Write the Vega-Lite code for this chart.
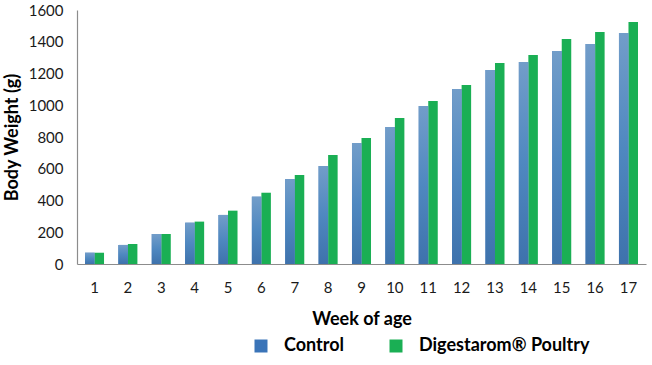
{
  "$schema": "https://vega.github.io/schema/vega-lite/v6.json",
  "width": 569,
  "height": 254,
  "autosize": {"type": "none"},
  "padding": {"left": 77, "top": 10, "right": 6, "bottom": 101},
  "config": {
    "view": {"stroke": null},
    "font": "Lato",
    "axis": {
      "grid": false,
      "ticks": false,
      "domainColor": "#8c8c8c",
      "domainWidth": 1.2,
      "labelColor": "#1a1a1a",
      "labelFont": "Lato",
      "labelFontSize": 15,
      "titleFont": "Lato",
      "titleFontSize": 18,
      "titleFontWeight": "bold",
      "titleColor": "#000000"
    }
  },
  "data": {
    "values": [
      {"week": 1, "group": "Control", "weight": 71},
      {"week": 1, "group": "Digestarom® Poultry", "weight": 71},
      {"week": 2, "group": "Control", "weight": 120},
      {"week": 2, "group": "Digestarom® Poultry", "weight": 126},
      {"week": 3, "group": "Control", "weight": 189},
      {"week": 3, "group": "Digestarom® Poultry", "weight": 189},
      {"week": 4, "group": "Control", "weight": 260},
      {"week": 4, "group": "Digestarom® Poultry", "weight": 267},
      {"week": 5, "group": "Control", "weight": 309},
      {"week": 5, "group": "Digestarom® Poultry", "weight": 336},
      {"week": 6, "group": "Control", "weight": 424},
      {"week": 6, "group": "Digestarom® Poultry", "weight": 449},
      {"week": 7, "group": "Control", "weight": 535},
      {"week": 7, "group": "Digestarom® Poultry", "weight": 561},
      {"week": 8, "group": "Control", "weight": 617},
      {"week": 8, "group": "Digestarom® Poultry", "weight": 687},
      {"week": 9, "group": "Control", "weight": 762},
      {"week": 9, "group": "Digestarom® Poultry", "weight": 794},
      {"week": 10, "group": "Control", "weight": 863},
      {"week": 10, "group": "Digestarom® Poultry", "weight": 920},
      {"week": 11, "group": "Control", "weight": 995},
      {"week": 11, "group": "Digestarom® Poultry", "weight": 1027},
      {"week": 12, "group": "Control", "weight": 1102},
      {"week": 12, "group": "Digestarom® Poultry", "weight": 1128},
      {"week": 13, "group": "Control", "weight": 1222},
      {"week": 13, "group": "Digestarom® Poultry", "weight": 1266},
      {"week": 14, "group": "Control", "weight": 1272},
      {"week": 14, "group": "Digestarom® Poultry", "weight": 1317},
      {"week": 15, "group": "Control", "weight": 1342},
      {"week": 15, "group": "Digestarom® Poultry", "weight": 1417},
      {"week": 16, "group": "Control", "weight": 1386},
      {"week": 16, "group": "Digestarom® Poultry", "weight": 1461},
      {"week": 17, "group": "Control", "weight": 1455},
      {"week": 17, "group": "Digestarom® Poultry", "weight": 1524}
    ]
  },
  "encoding": {
    "x": {
      "field": "week",
      "type": "ordinal",
      "scale": {"paddingInner": 0.43, "paddingOuter": 0.24},
      "axis": {"labelAngle": 0, "title": "Week of age", "labelPadding": 16, "titlePadding": 15}
    },
    "xOffset": {"field": "group", "type": "nominal", "sort": ["Control", "Digestarom® Poultry"]},
    "y": {
      "field": "weight",
      "type": "quantitative",
      "scale": {"domain": [0, 1600]},
      "axis": {"values": [0, 200, 400, 600, 800, 1000, 1200, 1400, 1600], "format": "d", "title": "Body Weight (g)", "labelPadding": 14, "titlePadding": 7}
    }
  },
  "layer": [
    {
      "mark": {"type": "bar"},
      "encoding": {
        "color": {
          "field": "group",
          "type": "nominal",
          "scale": {"domain": ["Control", "Digestarom® Poultry"], "range": ["#3a74b8", "#1aaf54"]},
          "legend": {
            "orient": "none",
            "legendX": 175,
            "legendY": 327,
            "direction": "horizontal",
            "title": null,
            "symbolType": "square",
            "symbolSize": 169,
            "symbolOpacity": 1,
            "labelFontSize": 18,
            "labelFontWeight": "bold",
            "labelColor": "#000000",
            "labelFont": "Lato",
            "labelOffset": 14,
            "labelLimit": 400,
            "columnPadding": 42
          }
        }
      }
    },
    {
      "transform": [{"filter": "datum.group === 'Control'"}],
      "mark": {
        "type": "bar",
        "fill": {
          "gradient": "linear",
          "x1": 0, "y1": 0, "x2": 0, "y2": 1,
          "stops": [
            {"offset": 0, "color": "#729dc9"},
            {"offset": 0.5, "color": "#4f88c0"},
            {"offset": 1, "color": "#3e72ac"}
          ]
        }
      }
    }
  ]
}
